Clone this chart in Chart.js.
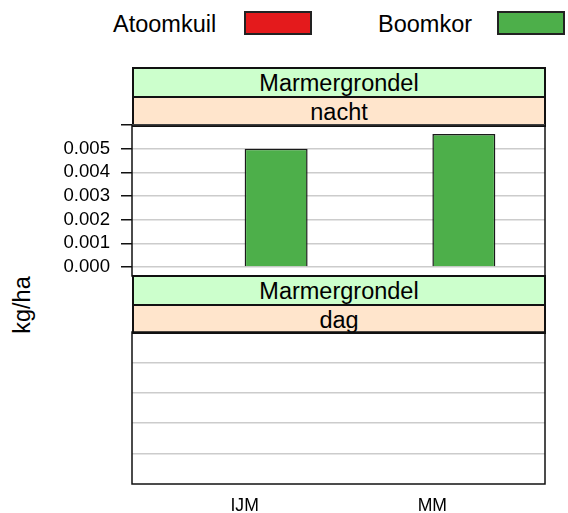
<!DOCTYPE html>
<html>
<head>
<meta charset="utf-8">
<script src="https://cdn.jsdelivr.net/npm/chart.js@4/dist/chart.umd.min.js"></script>
<style>
	body { margin: 0; background: #fff; font-family: "Liberation Sans", Arial, sans-serif; }
	#wrap { position: relative; width: 568px; height: 513px; overflow: hidden; }
	.abs { position: absolute; }
	.txt { font-size: 23.5px; color: #000; line-height: 1; white-space: nowrap; }
	.key { box-sizing: border-box; border: 2px solid #222; }
	.strip { box-sizing: border-box; left: 132px; width: 414px; border: 2px solid #111; text-align: center; font-size: 23.5px; line-height: 29px; }
</style>
</head>
<body>
<div id="wrap">
	<div class="abs txt" style="left:113px; top:13px;">Atoomkuil</div>
	<div class="abs key" id="keyA" style="left:244px; top:11px; width:68px; height:24px;"></div>
	<div class="abs txt" style="left:378px; top:13px;">Boomkor</div>
	<div class="abs key" id="keyB" style="left:497px; top:11px; width:68px; height:24px;"></div>

	<div class="abs strip" id="s1" style="top:67px; height:31px; background:#ccffcc;"></div>
	<div class="abs strip" id="s2" style="top:96px; height:31px; background:#ffe5cc;"></div>
	<div class="abs strip" id="s3" style="top:275px; height:31px; background:#ccffcc;"></div>
	<div class="abs strip" id="s4" style="top:304px; height:30px; background:#ffe5cc;"></div>

	<div class="abs txt" style="left:23px; top:305px; transform: translate(-50%, -50%) rotate(-90deg);">kg/ha</div>

	<div class="abs" style="left:0; top:115px; width:568px; height:171px;"><canvas id="top"></canvas></div>
	<div class="abs" style="left:0; top:322px; width:568px; height:191px;"><canvas id="bottom"></canvas></div>
</div>
<script>
var categories = ['IJM', 'MM']
var seriesNames = ['Atoomkuil', 'Boomkor']
var colors = ['#e41a1c', '#4daf4a']
var species = 'Marmergrondel'
var panels = ['nacht', 'dag']

// kg/ha per category
var nachtAtoomkuil = [null, null]
var nachtBoomkor = [0.0050, 0.00562]
var dagAtoomkuil = [null, null]
var dagBoomkor = [null, null]

var yTicks = [0, 0.001, 0.002, 0.003, 0.004, 0.005, 0.006]
var yTickLabels = ['0.000', '0.001', '0.002', '0.003', '0.004', '0.005', '']
var emptyTicks = [0.2, 0.4, 0.6, 0.8]

document.getElementById('keyA').style.background = colors[0]
document.getElementById('keyB').style.background = colors[1]
document.getElementById('s1').textContent = species
document.getElementById('s2').textContent = panels[0]
document.getElementById('s3').textContent = species
document.getElementById('s4').textContent = panels[1]

var frame = {
	id: 'frame',
	afterDraw: function (chart) {
		var a = chart.chartArea
		var ctx = chart.ctx
		ctx.save()
		ctx.strokeStyle = '#111'
		ctx.lineWidth = 1.5
		ctx.strokeRect(a.left, a.top, a.right - a.left, a.bottom - a.top)
		ctx.restore()
	}
}

function points(values) {
	return values.map(function (v, i) { return { x: i + 1, y: v } })
}

function makeDatasets(a, b) {
	return [a, b].map(function (values, i) {
		return {
			label: seriesNames[i],
			data: points(values),
			backgroundColor: colors[i],
			borderColor: '#1a1a1a',
			borderWidth: 1.5,
			categoryPercentage: 0.671,
			barPercentage: 1
		}
	})
}

function xScale(show) {
	return {
		type: 'linear',
		display: show,
		offset: false,
		min: 0.4,
		max: 2.6,
		afterBuildTicks: function (scale) {
			scale.ticks = categories.map(function (c, i) { return { value: i + 1 } })
		},
		afterFit: function (scale) {
			scale.height = show ? 29 : 0
			scale.paddingLeft = 0
			scale.paddingRight = 0
		},
		grid: { display: false, drawTicks: false },
		border: { display: false },
		ticks: {
			padding: 12,
			autoSkip: false,
			maxRotation: 0,
			color: '#000',
			font: { family: 'Liberation Sans', size: 17.6 },
			callback: function (v) { return categories[v - 1] }
		}
	}
}

function fitY(scale) {
	scale.width = 132
	scale.paddingTop = 0
	scale.paddingBottom = 0
}

function initPanel(id, a, b, yOpts) {
	return new Chart(document.getElementById(id), {
		type: 'bar',
		data: { datasets: makeDatasets(a, b) },
		options: {
			responsive: true,
			maintainAspectRatio: false,
			animation: false,
			layout: { padding: { top: 10, right: 23, bottom: id == 'top' ? 10 : 0, left: 0 } },
			plugins: { legend: { display: false }, tooltip: { enabled: false } },
			scales: { x: xScale(id == 'bottom'), y: yOpts }
		},
		plugins: [frame]
	})
}

initPanel('top', nachtAtoomkuil, nachtBoomkor, {
	min: -0.00038,
	max: 0.006,
	afterBuildTicks: function (scale) {
		scale.ticks = yTicks.map(function (v) { return { value: v } })
	},
	afterFit: fitY,
	grid: { color: '#cccccc', lineWidth: 1.5, tickColor: '#111', tickLength: 11, tickWidth: 1.5 },
	border: { display: false },
	ticks: {
		padding: 11,
		autoSkip: false,
		color: '#000',
		font: { family: 'Liberation Sans', size: 18.6 },
		callback: function (v, i) { return yTickLabels[i] }
	}
})

initPanel('bottom', dagAtoomkuil, dagBoomkor, {
	min: 0,
	max: 1,
	afterBuildTicks: function (scale) {
		scale.ticks = emptyTicks.map(function (v) { return { value: v } })
	},
	afterFit: fitY,
	grid: { color: '#cccccc', lineWidth: 1.5, drawTicks: false },
	border: { display: false },
	ticks: { display: false, autoSkip: false }
})
</script>
</body>
</html>
